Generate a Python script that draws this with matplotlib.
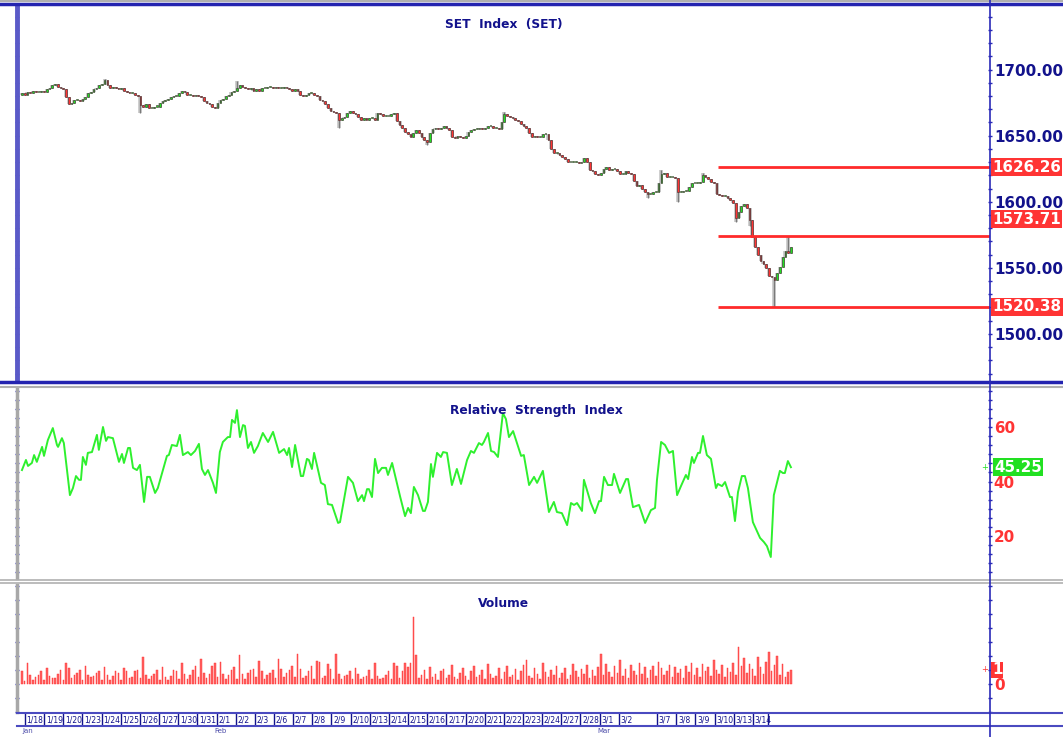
import numpy as np
import matplotlib
matplotlib.use("Agg")
import matplotlib.pyplot as plt
from matplotlib import font_manager
from matplotlib.lines import Line2D
from matplotlib.ticker import FixedLocator, MultipleLocator, FormatStrFormatter

# ---- data (hourly-ish bars, 7 per day) ----
close = [
    1682, 1681, 1683, 1682, 1684, 1683, 1683, 1684, 1683, 1685,
    1686, 1688, 1689, 1687, 1686, 1685, 1679, 1674, 1675, 1677,
    1677, 1676, 1678, 1679, 1682, 1683, 1685, 1686, 1688, 1689,
    1692, 1688, 1686, 1687, 1686, 1685, 1686, 1684, 1683, 1682,
    1682, 1681, 1680, 1673, 1672, 1674, 1671, 1671, 1672, 1672,
    1675, 1676, 1677, 1678, 1679, 1680, 1680, 1682, 1684, 1683,
    1681, 1681, 1680, 1681, 1680, 1679, 1676, 1675, 1674, 1672,
    1671, 1675, 1677, 1678, 1680, 1681, 1683, 1684, 1686, 1688,
    1687, 1686, 1685, 1686, 1684, 1685, 1684, 1686, 1686, 1687,
    1687, 1686, 1687, 1686, 1686, 1687, 1686, 1685, 1684, 1685,
    1684, 1681, 1680, 1681, 1682, 1682, 1681, 1680, 1677, 1676,
    1674, 1671, 1669, 1668, 1667, 1662, 1663, 1664, 1667, 1669,
    1667, 1666, 1664, 1662, 1663, 1662, 1663, 1663, 1662, 1667,
    1666, 1665, 1665, 1665, 1666, 1667, 1661, 1658, 1656, 1653,
    1651, 1649, 1652, 1654, 1652, 1649, 1647, 1645, 1652, 1655,
    1656, 1655, 1656, 1657, 1656, 1654, 1649, 1648, 1650, 1649,
    1648, 1650, 1653, 1654, 1655, 1655, 1656, 1655, 1656, 1657,
    1657, 1656, 1656, 1655, 1660, 1666, 1665, 1664, 1663, 1662,
    1661, 1659, 1657, 1656, 1652, 1649, 1650, 1649, 1649, 1651,
    1651, 1647, 1640, 1637, 1637, 1635, 1634, 1632, 1630, 1630,
    1630, 1630, 1629, 1630, 1633, 1630, 1624, 1623, 1621, 1620,
    1622, 1625, 1626, 1624, 1625, 1625, 1623, 1621, 1621, 1623,
    1622, 1621, 1616, 1612, 1613, 1610, 1607, 1606, 1606, 1607,
    1607, 1614, 1621, 1622, 1619, 1619, 1619, 1618, 1607, 1607,
    1608, 1608, 1611, 1614, 1614, 1614, 1615, 1620, 1619, 1617,
    1615, 1614, 1606, 1605, 1604, 1604, 1603, 1601, 1599, 1588,
    1592, 1597, 1598, 1595, 1586, 1573, 1566, 1560, 1555, 1553,
    1550, 1544, 1543, 1541, 1546, 1551, 1558, 1563, 1561, 1566,
]
first_open = 1681
high_spikes = {30: 1693, 78: 1691, 175: 1668, 212: 1626.26, 232: 1624, 247: 1622, 278: 1573.71}
low_spikes = {43: 1667, 115: 1656, 147: 1643, 227: 1603, 238: 1600, 259: 1585, 264: 1582, 273: 1520.38}

volume = [
    0.91, 0.19, 1.5, 0.66, 0.26, 0.5, 0.66, 0.91, 0.26, 1.14,
    0.59, 0.43, 0.43, 0.74, 1.02, 0.26, 1.5, 1.14, 0.43, 0.66,
    0.79, 1.02, 0.26, 1.26, 0.66, 0.5, 0.59, 0.79, 0.91, 0.26,
    1.21, 0.66, 0.26, 0.59, 0.91, 0.79, 0.26, 1.14, 0.91, 0.43,
    0.5, 0.91, 1.02, 0.43, 1.93, 0.66, 0.36, 0.59, 0.74, 0.98,
    0.26, 1.21, 0.5, 0.26, 0.59, 0.98, 0.91, 0.36, 1.5, 0.74,
    0.36, 0.66, 0.98, 1.26, 0.5, 1.81, 0.79, 0.43, 0.74, 1.26,
    1.5, 0.5, 1.57, 0.74, 0.36, 0.66, 0.98, 1.21, 0.36, 2.05,
    0.74, 0.36, 0.79, 0.98, 1.09, 0.5, 1.66, 0.91, 0.36, 0.66,
    0.79, 1.02, 0.43, 1.81, 1.09, 0.5, 0.79, 0.98, 1.26, 0.5,
    2.14, 1.09, 0.43, 0.59, 0.91, 1.26, 0.36, 1.66, 1.57, 0.43,
    0.59, 1.45, 1.09, 0.36, 2.14, 0.74, 0.36, 0.59, 0.66, 0.91,
    0.36, 1.14, 0.74, 0.36, 0.5, 0.59, 1.02, 0.36, 1.5, 0.59,
    0.36, 0.43, 0.66, 0.91, 0.36, 1.5, 1.26, 0.43, 0.91, 1.5,
    1.21, 1.5, 4.79, 2.05,
    0.43, 0.66, 0.98, 0.36, 1.21, 0.5, 0.74, 0.26, 0.91, 1.09,
    0.43, 0.66, 1.36, 0.5, 0.36, 0.81, 1.14, 0.59, 0.29, 0.91,
    1.29, 0.5, 0.66, 1.02, 0.36, 1.43, 0.74, 0.43, 0.59, 1.17,
    0.36, 0.86, 1.26, 0.5, 0.66, 1.09, 0.29, 0.95, 1.36, 1.71,
    0.59, 0.43, 1.14, 0.74, 0.36, 1.5, 0.86, 0.5, 1.02, 0.66,
    1.29, 0.43, 0.79, 1.17, 0.36, 0.66, 1.43, 0.91, 0.5, 1.09,
    0.74, 1.36, 0.43, 0.98, 0.59, 1.21, 2.14, 0.66, 1.43, 0.86,
    0.5, 1.29, 0.79, 1.71, 0.59, 1.07, 0.43, 1.36, 0.91, 0.66,
    1.5, 0.74, 1.21, 0.43, 0.98, 1.29, 0.59, 1.57, 1.14, 0.66,
    0.91, 1.36, 0.5, 1.21, 0.79, 1.07, 0.43, 1.29, 0.86, 1.5,
    0.66, 1.14, 0.5, 1.43, 0.91, 1.21, 0.59, 1.71, 1.02, 0.74,
    1.36, 0.5, 1.14, 0.86, 1.5, 0.66, 2.64, 1.29, 1.86, 0.79,
    1.43, 1.07, 0.59, 1.93, 1.21, 0.74, 1.57, 2.29, 0.91, 1.36,
    2.0, 0.66, 1.43, 0.5, 0.86, 1.0,
]

rsi_pos = [
    0, 1.45, 2.2, 3.6, 4.4, 5.4, 7.3, 8.0, 9.4, 11.2, 12.7, 13.1, 14.5, 15.2,
    17.4, 18.5, 19.6, 20.7, 21.4, 22.1, 23.2, 23.9, 25.4, 27.2, 27.9, 29.4,
    30.5, 31.2, 33.0, 35.2, 36.3, 37.0, 38.5, 39.2, 40.3, 41.7, 42.8, 44.3,
    45.4, 46.4, 48.3, 49.3, 52.6, 53.3, 54.4, 56.2, 57.3, 58.4, 60.2, 61.3,
    62.8, 64.2, 65.3, 66.4, 67.5, 68.6, 69.3, 70.4, 71.8, 72.9, 74.7, 75.5,
    76.2, 77.3, 78.0, 79.1, 80.2, 80.9, 82.0, 83.1, 84.2, 85.6, 87.4, 88.9,
    89.3, 91.1, 93.3, 95.1, 96.2, 96.9, 98.0, 99.1, 101.2, 102.0, 103.4,
    104.1, 105.2, 106.0, 108.5, 109.9, 111.0, 112.5, 114.7, 115.4, 118.3,
    120.1, 121.9, 123.4, 124.1, 125.2, 125.9, 127.0, 128.1, 129.2, 130.6,
    132.1, 132.8, 134.3, 137.2, 139.0, 140.1, 141.1, 142.2, 143.7, 145.5,
    146.2, 147.3, 148.4, 149.1, 150.6, 152.0, 152.8, 154.2, 156.0, 157.8,
    159.3, 161.5, 162.9, 164.0, 165.8, 166.9, 167.6, 169.1, 170.2, 171.3,
    172.7, 174.5, 175.6, 176.7, 178.2, 181.1, 182.1, 184.0, 185.8, 186.9,
    189.0, 191.2, 193.0, 194.1, 195.9, 197.8, 199.2, 200.3, 201.4, 203.2,
    203.9, 206.4, 207.9, 209.4, 210.1, 211.2, 212.6, 214.1, 214.8, 217.0,
    219.2, 219.9, 221.7, 223.9, 226.1, 228.2, 229.7, 230.4, 231.9, 233.3,
    234.8, 236.2, 237.7, 239.1, 240.9, 241.7, 243.1, 243.8, 245.3, 246.0,
    247.1, 248.5, 250.0, 251.8, 252.5, 254.0, 255.1, 256.9, 257.6, 258.7,
    259.8, 261.2, 262.3, 263.4, 265.2, 267.8, 269.2, 270.3, 271.7, 272.8,
    275.0, 276.1, 276.8, 277.9, 279.0,
]
rsi_val = [
    44.2, 47.9, 45.7, 46.8, 49.7, 47.2, 52.7, 49.4, 55.2, 59.6, 53.4, 52.7, 55.9, 54.1,
    35.0, 37.6, 42.0, 40.6, 40.6, 49.0, 46.1, 50.5, 50.8, 57.1, 51.6, 60.0,
    54.9, 56.3, 55.9, 47.2, 50.1, 46.8, 52.3, 52.3, 45.0, 44.2, 46.1, 32.5,
    41.7, 41.7, 35.8, 37.6, 49.4, 49.7, 53.4, 53.0, 57.1, 49.7, 50.8, 49.7,
    51.2, 53.8, 44.6, 42.4, 44.2, 41.3, 39.5, 35.8, 50.8, 54.5, 56.3, 56.3,
    62.6, 61.5, 66.2, 56.3, 60.7, 60.4, 52.3, 54.5, 50.5, 53.0, 57.8, 55.2,
    54.5, 58.2, 50.5, 51.9, 49.7, 52.3, 45.3, 53.4, 42.0, 42.0, 48.3,
    47.9, 44.6, 50.5, 39.5, 38.7, 31.7, 31.4, 24.8, 25.1, 41.7,
    39.5, 32.8, 35.0, 32.8, 37.2, 37.2, 34.3, 48.3, 43.1, 45.0,
    45.0, 42.4, 46.8, 34.5, 27.3, 30.3, 28.4, 38.0, 35.0, 29.2,
    29.2, 32.5, 46.4, 41.7, 50.5, 49.0, 50.8, 50.5, 38.7, 44.6,
    39.1, 47.9, 51.2, 50.5, 54.1, 53.4, 54.5, 57.8, 51.2, 50.8,
    49.0, 65.1, 62.9, 56.3, 58.5, 49.4, 49.7, 38.7, 41.7, 39.5,
    43.9, 28.8, 32.5, 28.8, 28.4, 24.0, 32.1, 31.4, 32.1, 29.2,
    40.6, 32.1, 28.4, 32.8, 32.8, 41.7, 38.7, 38.7, 42.8, 35.8,
    40.9, 40.9, 30.6, 31.4, 24.8, 29.5, 30.3, 40.6, 54.5, 53.4,
    50.5, 51.2, 35.0, 38.3, 42.4, 40.9, 49.0, 46.8, 50.5, 50.5,
    56.7, 49.7, 48.3, 37.6, 39.1, 38.3, 39.8, 34.3, 34.3, 25.5,
    36.1, 42.0, 42.0, 37.6, 25.1, 19.3, 17.8, 16.3, 12.3, 35.0,
    43.9, 43.1, 43.1, 47.5, 45.25,
]

levels = [1626.26, 1573.71, 1520.38]
level_start = 252.5          # bar where the red support/resistance lines begin
level_badge_shift = [0, 17, 0]   # 1573.71 tag sits above its line

date_labels = ['1/18', '1/19', '1/20', '1/23', '1/24', '1/25', '1/26', '1/27', '1/30', '1/31',
               '2/1', '2/2', '2/3', '2/6', '2/7', '2/8', '2/9', '2/10', '2/13', '2/14',
               '2/15', '2/16', '2/17', '2/20', '2/21', '2/22', '2/23', '2/24', '2/27', '2/28',
               '3/1', '3/2', '3/7', '3/8', '3/9', '3/10', '3/13', '3/14']
date_day = list(range(32)) + [33, 34, 35, 36, 37, 38]
months = ['Jan', 'Feb', 'Mar']
month_day = [0, 10, 30]
bars_per_day = 6.95
day0 = 1.1

# ---- look ----
W, H = 1063, 737
NAVY = '#12128c'
BLUE = '#2a2ab8'
RED = '#ff3434'
GREEN = '#22e022'

names = {f.name for f in font_manager.fontManager.ttflist}
if 'Liberation Sans Narrow' in names:
    NARROW, fscale = 'Liberation Sans Narrow', 1.0
else:
    NARROW, fscale = 'DejaVu Sans', 0.68

fig = plt.figure(figsize=(W / 100, H / 100), dpi=100)
fig.patch.set_facecolor('white')


def box(x0, y0, x1, y1):
    return [x0 / W, 1 - y1 / H, (x1 - x0) / W, (y1 - y0) / H]


def hline(y, color, lw, x0=14, x1=W):
    fig.add_artist(Line2D([x0 / W, x1 / W], [1 - y / H, 1 - y / H], color=color, lw=lw,
                          transform=fig.transFigure))


ax_p = fig.add_axes(box(17, 5, 990, 381))
ax_r = fig.add_axes(box(17, 388, 990, 578), sharex=ax_p)
ax_v = fig.add_axes(box(17, 585, 990, 712), sharex=ax_p)
ax_d = fig.add_axes(box(17, 713, 990, 725), sharex=ax_p)

close = np.array(close, dtype=float)
x = np.arange(len(close))
opens = np.r_[first_open, close[:-1]]
highs = np.maximum(opens, close)
lows = np.minimum(opens, close)
for i, v in high_spikes.items():
    highs[i] = max(highs[i], v)
for i, v in low_spikes.items():
    lows[i] = min(lows[i], v)

x_right = (990 - 22) / 2.756
ax_p.set_xlim(-1.8, x_right)

# candles: grey shadow behind each bar, then the body
up = close >= opens
ax_p.vlines(x, np.minimum(lows, lows), highs, color='#c4c4c4', lw=2.6, zorder=1)
ax_p.vlines(x, lows, highs, color='#7a7a7a', lw=0.9, zorder=2)
body_h = np.maximum(np.abs(close - opens), 0.8)
ax_p.bar(x, body_h, bottom=np.minimum(opens, close), width=0.62,
         color=np.where(up, GREEN, RED), edgecolor='#3a2a2a', linewidth=0.4, zorder=3)

ax_p.set_ylim(1464.4, 1748.8)
for lv, dy in zip(levels, level_badge_shift):
    ax_p.hlines(lv, level_start, x_right, color='#ff2a2a', lw=2, zorder=4)
    ax_p.annotate(f'{lv:.2f}', xy=(1, lv), xycoords=('axes fraction', 'data'),
                  xytext=(1.5, dy * 0.72), textcoords='offset points', ha='left', va='center',
                  color='white', fontsize=16 * fscale, fontweight='bold', family=NARROW,
                  bbox=dict(boxstyle='square,pad=0.1', fc=RED, ec='none'),
                  annotation_clip=False, zorder=10)

# RSI
ax_r.plot(rsi_pos, rsi_val, color='#2ef02e', lw=1.4)
ax_r.set_ylim(4.6, 74.3)
ax_r.annotate(f'{rsi_val[-1]:.2f}', xy=(1, rsi_val[-1]), xycoords=('axes fraction', 'data'),
              xytext=(3, 0), textcoords='offset points', ha='left', va='center',
              color='white', fontsize=16 * fscale, fontweight='bold', family=NARROW,
              bbox=dict(boxstyle='square,pad=0.1', fc=GREEN, ec='none'),
              annotation_clip=False, zorder=10)
ax_r.annotate('+', xy=(1, rsi_val[-1]), xycoords=('axes fraction', 'data'),
              xytext=(-4, 0), textcoords='offset points', ha='center', va='center',
              color=GREEN, fontsize=6, annotation_clip=False)

# Volume
ax_v.bar(x, volume, width=0.55, color='#ff6464', edgecolor='#ff2a2a', linewidth=0.3)
ax_v.set_ylim(-2.0, 7.07)
ax_v.annotate(f'{volume[-1]:.0f}', xy=(1, volume[-1]), xycoords=('axes fraction', 'data'),
              xytext=(1.5, 0), textcoords='offset points', ha='left', va='center',
              color='white', fontsize=16 * fscale, fontweight='bold', family=NARROW,
              bbox=dict(boxstyle='square,pad=0.05', fc=RED, ec='none'),
              annotation_clip=False, zorder=10)
ax_v.annotate('+', xy=(1, volume[-1]), xycoords=('axes fraction', 'data'),
              xytext=(-4, 0), textcoords='offset points', ha='center', va='center',
              color=RED, fontsize=6, annotation_clip=False)

# axes styling
panel_specs = [
    (ax_p, [1500, 1550, 1600, 1650, 1700], 10, '%.2f', NAVY, '#5a5ac8', 3.5),
    (ax_r, [20, 40, 60], 10 / 3, '%d', RED, '#a8a8a8', 2.5),
    (ax_v, [0], 1, '%d', RED, '#a8a8a8', 2.5),
]
for ax, majors, minor, fmt, lc, left_c, left_w in panel_specs:
    for s in ('top', 'bottom', 'right'):
        ax.spines[s].set_visible(False)
    ax.spines['left'].set_color(left_c)
    ax.spines['left'].set_linewidth(left_w)
    ax.yaxis.set_major_locator(FixedLocator(majors))
    ax.yaxis.set_major_formatter(FormatStrFormatter(fmt))
    ax.yaxis.set_minor_locator(MultipleLocator(minor))
    ax.tick_params(axis='y', which='both', left=True, right=True, labelleft=False,
                   labelright=True, direction='inout', color=BLUE, length=3.5, width=1,
                   pad=1)
    ax.tick_params(axis='y', which='major', labelsize=16 * fscale, labelcolor=lc)
    for t in ax.get_yticklabels():
        t.set_fontfamily(NARROW)
        t.set_fontweight('bold')
    ax.tick_params(axis='x', which='both', bottom=False, labelbottom=False)
    ax.set_facecolor('white')

title_kw = dict(ha='center', va='center', fontsize=13 * fscale, fontweight='bold',
                color=NAVY, family=NARROW)
ax_p.text(0.5, 0.947, 'SET  Index  (SET)', transform=ax_p.transAxes, **title_kw)
ax_r.text(0.534, 0.879, 'Relative  Strength  Index', transform=ax_r.transAxes, **title_kw)
ax_v.text(0.5, 0.858, 'Volume', transform=ax_v.transAxes, **title_kw)

# date strip
ax_d.set_ylim(0, 1)
ax_d.axis('off')
bounds = [day0 + d * bars_per_day for d in date_day] + [day0 + (date_day[-1] + 0.8) * bars_per_day]
ax_d.vlines(bounds, 0, 1, color=NAVY, lw=1)
for lab, d in zip(date_labels, date_day):
    ax_d.text(day0 + d * bars_per_day + 0.6, 0.45, lab, ha='left', va='center',
              fontsize=5.5, color=NAVY)
for m, d in zip(months, month_day):
    ax_d.text(day0 + d * bars_per_day - 0.8, -0.25, m, ha='left', va='top',
              fontsize=5, color='#4a4aa8', clip_on=False)

# frame lines of the charting window
hline(1, '#b0b0b0', 1.5, 0)
hline(4, '#2424b0', 2.5, 0)
hline(382, '#2424b0', 2.5, 0)
hline(386.5, '#b0b0b0', 1.5, 0)
hline(579.5, '#b0b0b0', 1.2, 0)
hline(582.5, '#b0b0b0', 1.2, 0)
hline(712.5, '#4a4ac0', 1.5, 17)
hline(725.5, '#4a4ac0', 1.5, 17)
fig.add_artist(Line2D([990 / W, 990 / W], [0, 1], color=BLUE, lw=1.2, transform=fig.transFigure))

fig.savefig('out.png', dpi=100, facecolor='white')
